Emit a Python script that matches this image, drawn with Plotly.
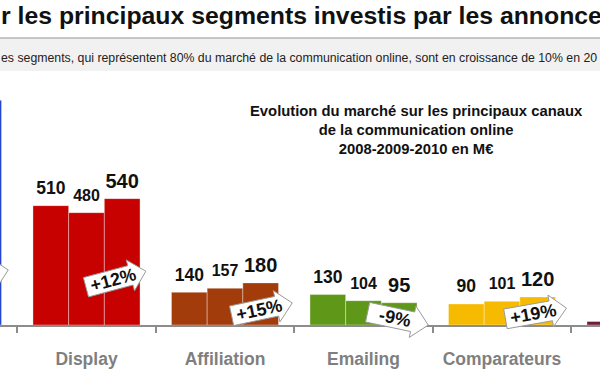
import math
import plotly.graph_objects as go

# ---------------- data ----------------
categories = ["Search", "Display", "Affiliation", "Emailing", "Comparateurs", "Autres"]
years = ["2008", "2009", "2010"]
values_2008 = [850, 510, 140, 130, 90, 15]
values_2009 = [890, 480, 157, 104, 101, 16]
values_2010 = [960, 540, 180, 95, 120, 18]
growth_labels = ["", "+12%", "+15%", "-9%", "+19%", ""]
category_colors = ["#2446cf", "#c70000", "#a23c0b", "#5f9719", "#f6bb00", "#6a1e3a"]

title_text = "r les principaux segments investis par les annonce"
subtitle_text = ("es segments, qui représentent 80% du marché de la communication online, "
                 "sont en croissance de 10% en 20")
chart_title = ("Evolution du marché sur les principaux canaux<br>"
               "de la communication online<br>2008-2009-2010 en M€")

# ---------------- geometry / style ----------------
W, H = 600, 372
PLOT_H = 325                 # pixel row of the baseline
CAT_PX = 138.5               # pixels per category
FIRST_CENTER_PX = 86.5       # pixel centre of category index 1
PX_PER_UNIT = 0.234
FONT = "Liberation Sans, Arial, sans-serif"

x0 = 1 - FIRST_CENTER_PX / CAT_PX
x_range = [x0, x0 + W / CAT_PX]
y_range = [0, PLOT_H / PX_PER_UNIT]

series = [values_2008, values_2009, values_2010]
label_sizes = [17.5, 16, 20]
label_pad_units = 16 / PX_PER_UNIT


def px2paper(px, py):
    return px / W, (PLOT_H - py) / PLOT_H


fig = go.Figure()
for yr, vals in zip(years, series):
    fig.add_trace(go.Bar(
        x=categories, y=vals, name=yr, offsetgroup=yr,
        marker=dict(color=category_colors,
                    line=dict(color="rgba(255,255,255,0.35)", width=1)),
        hoverinfo="skip", showlegend=False,
    ))
for yr, vals, fs in zip(years, series, label_sizes):
    fig.add_trace(go.Scatter(
        x=categories, y=[v + label_pad_units for v in vals], offsetgroup=yr,
        mode="text", text=[str(v) for v in vals], textposition="middle center",
        textfont=dict(family=FONT, size=fs, color="#111111", weight="bold"),
        cliponaxis=False, hoverinfo="skip", showlegend=False,
    ))

shapes = []
annotations = []

# header band
bx0, by0 = px2paper(0, 38)
bx1, by1 = px2paper(W, 71)
shapes.append(dict(type="rect", xref="paper", yref="paper", x0=bx0, x1=bx1,
                   y0=by1, y1=by0, fillcolor="#f1f1f1", line=dict(width=0), layer="below"))
lx, ly = px2paper(0, 38)
shapes.append(dict(type="line", xref="paper", yref="paper", x0=0, x1=1, y0=ly, y1=ly,
                   line=dict(color="#b5b5b5", width=1.5)))

# growth arrows (centre px, centre py, angle in degrees; + = clockwise)
arrow_pos = [(-25, 277, -12), (113, 280, -15), (259, 310, -12),
             (395, 318, 12), (533, 314, -10), (None, None, 0)]
arrow_local = [(-28, -10), (18, -10), (18, -16), (34, 0), (18, 16), (18, 10), (-28, 10)]
for (cx, cy, ang), lab in zip(arrow_pos, growth_labels):
    if cx is None:
        continue
    a = math.radians(ang)
    pts = []
    for lxp, lyp in arrow_local:
        rx = cx + lxp * math.cos(a) - lyp * math.sin(a)
        ry = cy + lxp * math.sin(a) + lyp * math.cos(a)
        pts.append(px2paper(rx, ry))
    path = "M " + " L ".join(f"{p[0]:.5f},{p[1]:.5f}" for p in pts) + " Z"
    shapes.append(dict(type="path", xref="paper", yref="paper", path=path,
                       fillcolor="white", line=dict(color="#9a9a9a", width=1)))
    if lab:
        ax, ay = px2paper(cx, cy)
        annotations.append(dict(xref="paper", yref="paper", x=ax, y=ay, text=lab,
                                showarrow=False, textangle=ang,
                                font=dict(family=FONT, size=18, color="#111111", weight="bold"),
                                xanchor="center", yanchor="middle"))

tx, ty = px2paper(-1, 16)
annotations.append(dict(xref="paper", yref="paper", x=tx, y=ty, text=title_text,
                        showarrow=False, xanchor="left", yanchor="middle",
                        font=dict(family=FONT, size=24.8, color="#111111", weight="bold")))
sx, sy = px2paper(-1, 58)
annotations.append(dict(xref="paper", yref="paper", x=sx, y=sy, text=subtitle_text,
                        showarrow=False, xanchor="left", yanchor="middle",
                        font=dict(family=FONT, size=12.3, color="#222222")))
cx_, cy_ = px2paper(416, 130)
annotations.append(dict(xref="paper", yref="paper", x=cx_, y=cy_, text=chart_title,
                        showarrow=False, xanchor="center", yanchor="middle",
                        font=dict(family=FONT, size=14.8, color="#111111", weight="bold")))

fig.update_layout(
    width=W, height=H,
    margin=dict(l=0, r=0, t=0, b=H - PLOT_H, pad=0),
    paper_bgcolor="white", plot_bgcolor="white",
    barmode="group", bargap=0.227, bargroupgap=0,
    scattermode="group", scattergap=0.227,
    shapes=shapes, annotations=annotations,
    xaxis=dict(type="category", range=x_range, tickson="boundaries",
               ticks="outside", ticklen=6, tickcolor="#8c8c8c", tickwidth=1.5,
               showline=True, linecolor="#8c8c8c", linewidth=1.5,
               showgrid=False, zeroline=False, ticklabelstandoff=17,
               tickfont=dict(family=FONT, size=17.5, color="#7f7f7f", weight="bold")),
    yaxis=dict(range=y_range, visible=False, showgrid=False, zeroline=False),
)

fig.write_html("out.html", config={"displayModeBar": False},
               post_script="document.body.style.margin='0';")
